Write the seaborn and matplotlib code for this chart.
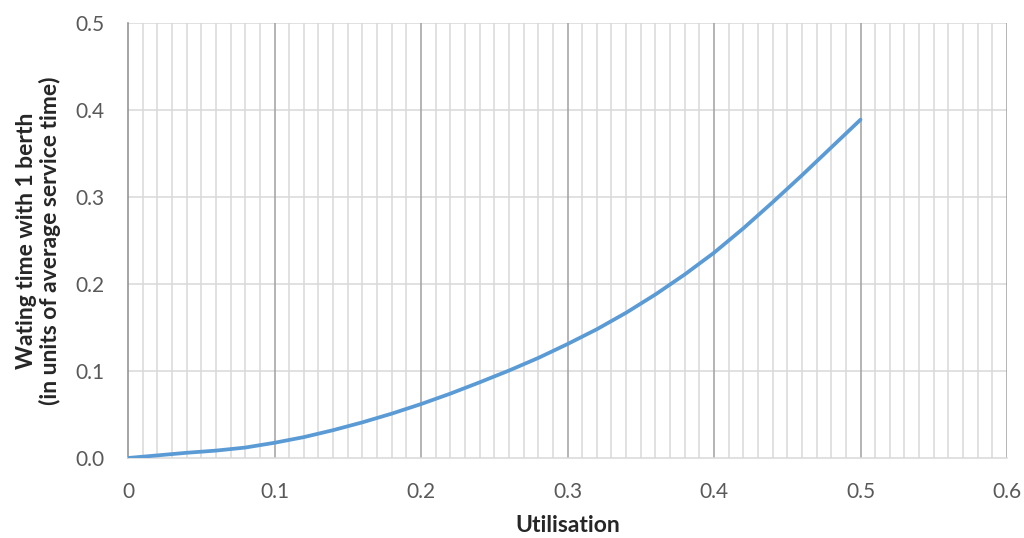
import pandas as pd
import numpy as np
import matplotlib.pyplot as plt
import seaborn as sns

sns.set_style('white')
plt.rcParams['font.family'] = ['Lato', 'DejaVu Sans']

# data
utilisation = [0.00, 0.02, 0.04, 0.06, 0.08, 0.10, 0.12, 0.14, 0.16, 0.18, 0.20,
               0.22, 0.24, 0.26, 0.28, 0.30, 0.32, 0.34, 0.36, 0.38, 0.40,
               0.42, 0.44, 0.46, 0.48, 0.50]
waiting_time = [0.000, 0.003, 0.006, 0.0085, 0.012, 0.0175, 0.024, 0.032, 0.041, 0.051, 0.062,
                0.074, 0.087, 0.1005, 0.115, 0.131, 0.148, 0.167, 0.188, 0.211, 0.236,
                0.264, 0.294, 0.325, 0.357, 0.389]
x_ticks = [0, 0.1, 0.2, 0.3, 0.4, 0.5, 0.6]
x_tick_labels = ['0', '0.1', '0.2', '0.3', '0.4', '0.5', '0.6']
y_ticks = [0.0, 0.1, 0.2, 0.3, 0.4, 0.5]
y_tick_labels = ['0.0', '0.1', '0.2', '0.3', '0.4', '0.5']

df = pd.DataFrame({'Utilisation': utilisation, 'Waiting': waiting_time})

fig = plt.figure(figsize=(10.24, 5.38), dpi=100)
ax = fig.add_axes([0.125, 0.1487, 0.8584, 0.8083])

# grid: minor every 0.01, major every 0.1
for v in np.arange(1, 60) / 100:
    if round(v * 100) % 10 != 0:
        ax.axvline(v, color='#d9d9d9', lw=1.1, zorder=0)
for v in [0.1, 0.2, 0.3, 0.4, 0.5, 0.6]:
    ax.axvline(v, color='#a0a0a0', lw=1.1, zorder=0.5)
for v in [0.1, 0.2, 0.3, 0.4, 0.5]:
    ax.axhline(v, color='#d9d9d9', lw=1.1, zorder=0)

sns.lineplot(data=df, x='Utilisation', y='Waiting', color='#5b9bd5', lw=2.7, ax=ax, zorder=3)

ax.set_xlim(0, 0.6)
ax.set_ylim(0, 0.5)
ax.set_xticks(x_ticks)
ax.set_xticklabels(x_tick_labels)
ax.set_yticks(y_ticks)
ax.set_yticklabels(y_tick_labels)
ax.tick_params(axis='both', length=0, labelsize=15, labelcolor='#595959', pad=17)

for s in ['top', 'right']:
    ax.spines[s].set_visible(False)
ax.spines['left'].set_color('#8c8c8c')
ax.spines['bottom'].set_color('#d9d9d9')
ax.spines['left'].set_linewidth(1.1)
ax.spines['bottom'].set_linewidth(1.1)

ax.set_xlabel('Utilisation', fontsize=16.5, fontweight='bold', labelpad=10)
ax.set_ylabel('Wating time with 1 berth\n(in units of average service time)',
              fontsize=16.5, fontweight='bold', labelpad=10, linespacing=1.15)

plt.savefig('out.png', dpi=100)
plt.close()
